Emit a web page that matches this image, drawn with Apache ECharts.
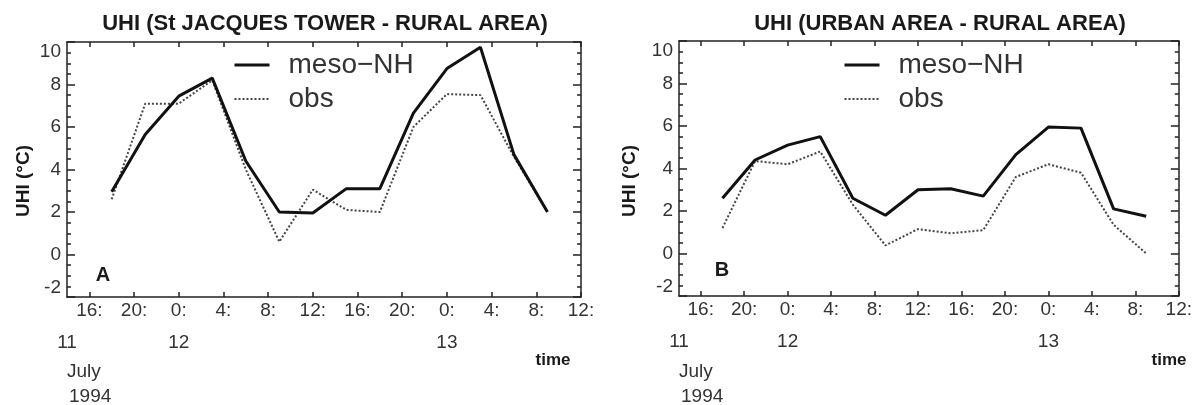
<!DOCTYPE html>
<html><head><meta charset="utf-8">
<script src="https://cdn.jsdelivr.net/npm/echarts@6/dist/echarts.min.js"></script>
<style>html,body{margin:0;padding:0;background:#fff}#c{width:1195px;height:405px}</style>
</head><body><div id="c"></div>
<script>
// x positions: hours since 16:00 on 11 July 1994 (3-hourly, 18:00 on 11th .. 09:00 on 13th)
const hoursSince16h = [2, 5, 8, 11, 14, 17, 20, 23, 26, 29, 32, 35, 38, 41];
// Panel A: St Jacques tower - rural area
const towerMeso = [2.95, 5.65, 7.45, 8.3, 4.4, 2.0, 1.95, 3.1, 3.1, 6.65, 8.75, 9.75, 4.7, 2.0];
const towerObs  = [2.6, 7.1, 7.1, 8.2, 4.0, 0.6, 3.05, 2.1, 2.0, 6.0, 7.55, 7.5, 4.6, 2.0];
// Panel B: urban area - rural area
const urbanMeso = [2.6, 4.4, 5.1, 5.5, 2.6, 1.8, 3.0, 3.05, 2.7, 4.65, 5.95, 5.9, 2.1, 1.75];
const urbanObs  = [1.2, 4.35, 4.2, 4.8, 2.3, 0.38, 1.15, 0.95, 1.1, 3.6, 4.2, 3.8, 1.35, 0.0];

const tickHours  = [0, 4, 8, 12, 16, 20, 24, 28, 32, 36, 40, 44];
const tickLabels = ['16:', '20:', '0:', '4:', '8:', '12:', '16:', '20:', '0:', '4:', '8:', '12:'];
const dayHours   = [-2, 8, 32];
const dayLabels  = ['11', '12', '13'];
const seriesNames = ['meso\u2212NH', 'obs'];
const panelTitles = ['UHI (St JACQUES TOWER - RURAL AREA)', 'UHI (URBAN AREA - RURAL AREA)'];
const panelLetters = ['A', 'B'];
const panelMeso = [towerMeso, urbanMeso];
const panelObs = [towerObs, urbanObs];

const FONT = 'Liberation Sans, Arial, Helvetica, sans-serif';
const INK = '#1a1a1a';
const grids = [
  { left: 67, top: 42, width: 514, height: 255 },
  { left: 679, top: 41, width: 504, height: 255 }
];

const pairs = (xs, ys) => xs.map((x, i) => [x, ys[i]]);
const lineSt = { color: '#222', width: 1.5 };

const xAxis = [], yAxis = [], series = [], legend = [], graphic = [];
grids.forEach((g, i) => {
  const base = { gridIndex: i, type: 'value', min: -2, max: 44, splitLine: { show: false } };
  xAxis.push(Object.assign({}, base, {
    position: 'bottom',
    axisLine: { show: true, onZero: false, lineStyle: lineSt },
    axisTick: { show: true, inside: true, length: 5, customValues: tickHours, lineStyle: lineSt },
    axisLabel: { customValues: tickHours, fontSize: 19, color: '#333', fontFamily: FONT, margin: 4,
      formatter: v => tickLabels[tickHours.indexOf(Math.round(v))] }
  }));
  xAxis.push(Object.assign({}, base, {
    position: 'top',
    axisLine: { show: true, onZero: false, lineStyle: lineSt },
    axisTick: { show: true, inside: true, length: 5, customValues: tickHours, lineStyle: lineSt },
    axisLabel: { show: false }
  }));
  xAxis.push(Object.assign({}, base, {
    position: 'bottom',
    axisLine: { show: false, onZero: false }, axisTick: { show: false },
    axisLabel: { customValues: dayHours, fontSize: 19, color: '#333', fontFamily: FONT, margin: 36,
      formatter: v => dayLabels[dayHours.indexOf(Math.round(v))] }
  }));
  const ybase = { gridIndex: i, type: 'value', min: -2, max: 10, interval: 2, splitLine: { show: false },
    axisLine: { show: true, onZero: false, lineStyle: lineSt },
    axisTick: { show: true, inside: true, length: 8, lineStyle: lineSt },
    minorTick: { show: true, splitNumber: 4, length: 4, lineStyle: lineSt },
    minorSplitLine: { show: false } };
  yAxis.push(Object.assign({}, ybase, {
    position: 'left',
    axisLabel: { fontSize: 19, color: '#333', fontFamily: FONT, margin: 6,
      verticalAlignMaxLabel: 'top', verticalAlignMinLabel: 'bottom',
      formatter: v => v < 0 ? '-' + Math.abs(v) : String(v) }
  }));
  yAxis.push(Object.assign({}, ybase, { position: 'right', axisLabel: { show: false } }));

  series.push({ name: seriesNames[0], type: 'line', xAxisIndex: i * 3, yAxisIndex: i * 2,
    data: pairs(hoursSince16h, panelMeso[i]), symbol: 'none', z: 3,
    lineStyle: { color: '#111', width: 3 }, itemStyle: { color: '#111' } });
  series.push({ name: seriesNames[1], type: 'line', xAxisIndex: i * 3, yAxisIndex: i * 2,
    data: pairs(hoursSince16h, panelObs[i]), symbol: 'none', z: 2,
    lineStyle: { color: '#444', width: 2, type: [2, 2] }, itemStyle: { color: '#444' } });

  legend.push({ data: seriesNames, orient: 'vertical', left: g.left + (i === 0 ? 161 : 159), top: 46,
    itemWidth: 35, itemHeight: 14, itemGap: 6, selectedMode: false,
    itemStyle: { opacity: 0 },
    lineStyle: { width: 'inherit', type: 'inherit', color: 'inherit' },
    textStyle: { fontSize: 28, color: '#333', fontFamily: FONT, padding: [0, 0, 0, 14] } });

  const cx = g.left + g.width / 2 + (i === 0 ? 1 : 9);
  graphic.push({ type: 'text', x: cx, y: 24, style: { text: panelTitles[i], font: 'bold 22px ' + FONT,
    fill: INK, align: 'center', verticalAlign: 'middle' } });
  graphic.push({ type: 'text', x: g.left - 43 - (i === 0 ? 0 : 6), y: 181, rotation: Math.PI / 2,
    style: { text: 'UHI (\u00b0C)', font: 'bold 19px ' + FONT, fill: INK, align: 'center', verticalAlign: 'middle' } });
  graphic.push({ type: 'text', x: g.left + (i === 0 ? 36 : 43), y: i === 0 ? 275 : 270,
    style: { text: panelLetters[i], font: 'bold 20px ' + FONT, fill: INK, align: 'center', verticalAlign: 'middle' } });
  graphic.push({ type: 'text', x: g.left, y: 372,
    style: { text: 'July', font: '19px ' + FONT, fill: '#333', align: 'left', verticalAlign: 'middle' } });
  graphic.push({ type: 'text', x: g.left + 2, y: 397,
    style: { text: '1994', font: '19px ' + FONT, fill: '#333', align: 'left', verticalAlign: 'middle' } });
  graphic.push({ type: 'text', x: g.left + g.width - (i === 0 ? 28 : 14), y: 360,
    style: { text: 'time', font: 'bold 17px ' + FONT, fill: INK, align: 'center', verticalAlign: 'middle' } });
});

const chart = echarts.init(document.getElementById('c'), null, { renderer: 'canvas' });
chart.setOption({ backgroundColor: '#fff', animation: false, grid: grids, xAxis, yAxis, series, legend, graphic });
</script></body></html>
